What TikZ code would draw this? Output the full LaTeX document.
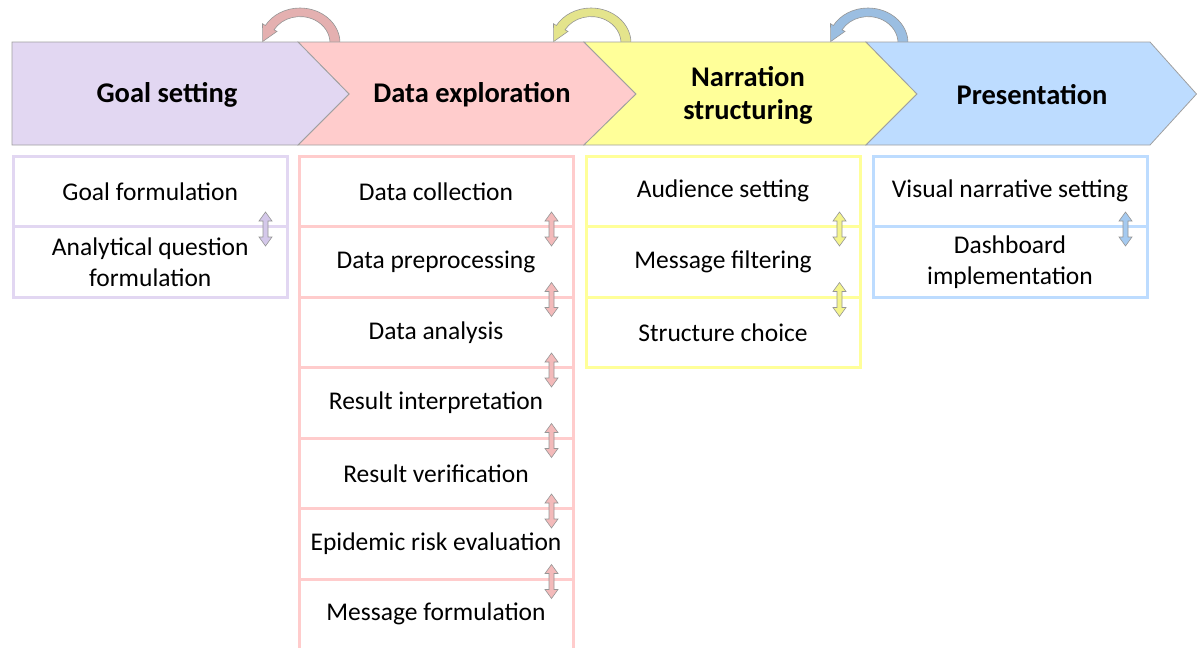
\documentclass[tikz,border=0pt]{standalone}
\usepackage{fontspec}
\setmainfont{Carlito}
\usetikzlibrary{calc}
\definecolor{lav}{RGB}{226,215,242}
\definecolor{pnk}{RGB}{255,204,204}
\definecolor{yel}{RGB}{255,255,153}
\definecolor{blu}{RGB}{189,220,255}
\definecolor{chevline}{RGB}{160,160,160}
\definecolor{arrline}{RGB}{150,150,150}
\definecolor{lavarr}{RGB}{212,200,234}
\definecolor{pnkarr}{RGB}{243,186,186}
\definecolor{yelarr}{RGB}{244,244,140}
\definecolor{bluarr}{RGB}{165,202,240}
\definecolor{pnkcurv}{RGB}{228,176,176}
\definecolor{yelcurv}{RGB}{228,228,140}
\definecolor{blucurv}{RGB}{155,190,225}
\newcommand\dblarr[2]{\filldraw[draw=arrline, fill=#2, line width=0.6pt] #1 ++(0,-17) -- ++(6.5,9) -- ++(-4,0) -- ++(0,16) -- ++(4,0) -- ++(-6.5,9) -- ++(-6.5,-9) -- ++(4,0) -- ++(0,-16) -- ++(-4,0) -- cycle;}
\newcommand\curvarr[2]{\begin{scope}[shift={(#1,43)}]
\filldraw[draw=arrline, fill=#2, line width=0.6pt] (40,0) arc[start angle=0, end angle=-150, x radius=40, y radius=35] -- (-37.5,-19.3) -- (-37.3,-1.5) -- (-23,-11.6) -- (-25.98,-13.2) arc[start angle=-150, end angle=0, x radius=30, y radius=26.4] -- cycle;
\end{scope}}
\begin{document}
\begin{tikzpicture}[x=1pt,y=-1pt,
  chev/.style={draw=chevline, line width=0.8pt},
  rowbox/.style={draw, line width=3pt, minimum width=274pt, minimum height=70.5pt, inner sep=0pt, align=center, font=\fontsize{25.5}{31}\selectfont},
  head/.style={font=\bfseries\fontsize{28.5}{33}\selectfont, align=center}]
\useasboundingbox (0,0) rectangle (1197,648);
% curved arrows (behind chevrons)
\curvarr{300}{pnkcurv}
\curvarr{591}{yelcurv}
\curvarr{868}{blucurv}
% chevrons
\filldraw[chev, fill=pnk] (298,42) -- (584,42) -- (636,94) -- (584,145) -- (298,145) -- (349,94) -- cycle;
\filldraw[chev, fill=lav] (12,42) -- (298,42) -- (349,94) -- (298,145) -- (12,145) -- cycle;
\filldraw[chev, fill=yel] (584,42) -- (866,42) -- (917,94) -- (866,145) -- (584,145) -- (636,94) -- cycle;
\filldraw[chev, fill=blu] (866,42) -- (1150,42) -- (1196.5,94) -- (1150,145) -- (866,145) -- (917,94) -- cycle;
\node[head] (hg) at (167,95) {Goal setting};
\node[head] (hd) at (472,95) {Data exploration};
\node[head] (hn) at (748,95) {Narration\\structuring};
\node[head] (hp) at (1032,95) {Presentation};
% goal column
\node[rowbox, draw=lav, minimum width=273.5pt] (g1) at (150.25,191.25) {Goal formulation};
\node[rowbox, draw=lav, minimum width=273.5pt] (g2) at (150.25,261.75) {Analytical question\\formulation};
% data column
\node[rowbox, draw=pnk] (d1) at (436,191.25) {Data collection};
\node[rowbox, draw=pnk] (d2) at (436,261.75) {Data preprocessing};
\node[rowbox, draw=pnk] (d3) at (436,332.25) {Data analysis};
\node[rowbox, draw=pnk] (d4) at (436,402.75) {Result interpretation};
\node[rowbox, draw=pnk] (d5) at (436,473.25) {Result verification};
\node[rowbox, draw=pnk] (d6) at (436,543.75) {Epidemic risk evaluation};
\node[rowbox, draw=pnk] (d7) at (436,614.25) {Message formulation};
% narration column
\node[rowbox, draw=yel] (n1) at (723,191.25) {Audience setting};
\node[rowbox, draw=yel] (n2) at (723,261.75) {Message filtering};
\node[rowbox, draw=yel] (n3) at (723,332.25) {Structure choice};
% presentation column
\node[rowbox, draw=blu] (p1) at (1010,191.25) {Visual narrative setting};
\node[rowbox, draw=blu] (p2) at (1010,261.75) {Dashboard\\implementation};
% double arrows between rows
\dblarr{($(g1.south east)+(-23,1)$)}{lavarr}
\dblarr{($(d1.south east)+(-23,1)$)}{pnkarr}
\dblarr{($(d2.south east)+(-23,1)$)}{pnkarr}
\dblarr{($(d3.south east)+(-23,1)$)}{pnkarr}
\dblarr{($(d4.south east)+(-23,1)$)}{pnkarr}
\dblarr{($(d5.south east)+(-23,1)$)}{pnkarr}
\dblarr{($(d6.south east)+(-23,1)$)}{pnkarr}
\dblarr{($(n1.south east)+(-22,1)$)}{yelarr}
\dblarr{($(n2.south east)+(-22,1)$)}{yelarr}
\dblarr{($(p1.south east)+(-23,1)$)}{bluarr}
\end{tikzpicture}
\end{document}
